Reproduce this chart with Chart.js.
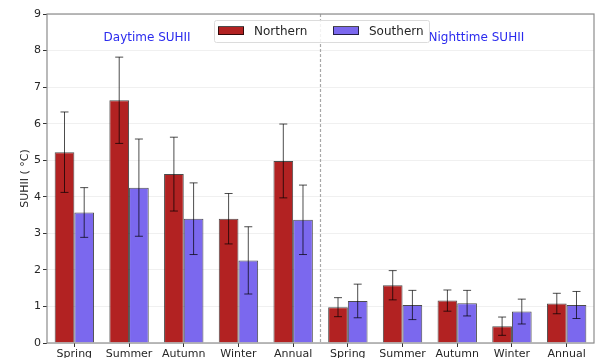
<!DOCTYPE html>
<html>
<head>
<meta charset="utf-8">
<script src="https://cdn.jsdelivr.net/npm/chart.js@4/dist/chart.umd.min.js"></script>
<style>
  html, body { margin: 0; padding: 0; background: #fff; overflow: hidden; }
  #wrap { width: 595px; height: 372px; position: relative; }
</style>
</head>
<body>
<div id="wrap"><canvas id="chart"></canvas></div>
<script>
// categories: daytime seasons then nighttime seasons
const seasons = ['Spring', 'Summer', 'Autumn', 'Winter', 'Annual',
                 'Spring', 'Summer', 'Autumn', 'Winter', 'Annual'];

const northern = [5.22, 6.64, 4.62, 3.40, 4.98, 0.98, 1.58, 1.16, 0.46, 1.08];
const northernErr = [1.10, 1.18, 1.01, 0.69, 1.01, 0.26, 0.40, 0.29, 0.25, 0.28];

const southern = [3.57, 4.25, 3.40, 2.26, 3.37, 1.15, 1.04, 1.09, 0.86, 1.04];
const southernErr = [0.68, 1.33, 0.98, 0.92, 0.95, 0.46, 0.40, 0.35, 0.34, 0.37];

const yTicks = [0, 1, 2, 3, 4, 5, 6, 7, 8, 9];

const FONT = 'DejaVu Sans';

// error bars, drawn over the bars
const errorBars = {
  id: 'errorBars',
  afterDatasetsDraw(chart) {
    const ctx = chart.ctx;
    const y = chart.scales.y;
    chart.data.datasets.forEach((ds, di) => {
      const meta = chart.getDatasetMeta(di);
      ctx.save();
      ctx.strokeStyle = 'rgba(0,0,0,0.7)';
      ctx.lineWidth = 1;
      meta.data.forEach((bar, i) => {
        const top = y.getPixelForValue(ds.data[i] + ds.errors[i]);
        const bot = y.getPixelForValue(ds.data[i] - ds.errors[i]);
        ctx.beginPath();
        ctx.moveTo(bar.x, top); ctx.lineTo(bar.x, bot);
        ctx.moveTo(bar.x - 4, top); ctx.lineTo(bar.x + 4, top);
        ctx.moveTo(bar.x - 4, bot); ctx.lineTo(bar.x + 4, bot);
        ctx.stroke();
      });
      ctx.restore();
    });
  }
};

// divider, frame, section labels and legend
const extras = {
  id: 'extras',
  beforeDatasetsDraw(chart) {
    const { ctx, chartArea, scales } = chart;
    const xd = (scales.x.getPixelForValue(4) + scales.x.getPixelForValue(5)) / 2;
    ctx.save();
    ctx.strokeStyle = '#a8a8a8';
    ctx.lineWidth = 1.2;
    ctx.setLineDash([3, 2]);
    ctx.beginPath();
    ctx.moveTo(xd, chartArea.top);
    ctx.lineTo(xd, chartArea.bottom);
    ctx.stroke();
    ctx.restore();
  },
  afterDraw(chart) {
    const { ctx, chartArea, scales } = chart;
    ctx.save();
    // frame
    ctx.strokeStyle = '#8c8c8c';
    ctx.lineWidth = 1.2;
    ctx.strokeRect(chartArea.left, chartArea.top,
      chartArea.right - chartArea.left, chartArea.bottom - chartArea.top);

    // section labels
    const step = scales.x.getPixelForValue(1) - scales.x.getPixelForValue(0);
    ctx.fillStyle = '#2b2bee';
    ctx.font = '12px "' + FONT + '"';
    ctx.textAlign = 'center';
    ctx.textBaseline = 'middle';
    ctx.fillText('Daytime SUHII', scales.x.getPixelForValue(1) + 0.33 * step, scales.y.getPixelForValue(8.36));
    ctx.fillText('Nighttime SUHII', scales.x.getPixelForValue(7) + 0.35 * step, scales.y.getPixelForValue(8.36));

    // legend
    const lx = 214, ly = 20, lw = 215, lh = 22;
    ctx.fillStyle = 'rgba(255,255,255,0.85)';
    ctx.strokeStyle = '#dcdcdc';
    ctx.lineWidth = 1;
    ctx.beginPath();
    ctx.roundRect(lx + 0.5, ly + 0.5, lw, lh, 2);
    ctx.fill();
    ctx.stroke();
    ctx.textAlign = 'left';
    ctx.font = '12px "' + FONT + '"';
    const items = [
      { text: 'Northern', color: chart.data.datasets[0].backgroundColor, x: lx + 4 },
      { text: 'Southern', color: chart.data.datasets[1].backgroundColor, x: lx + 119 }
    ];
    items.forEach(it => {
      ctx.fillStyle = it.color;
      ctx.fillRect(it.x, ly + 7, 26, 8);
      ctx.strokeStyle = 'rgba(0,0,0,0.7)';
      ctx.strokeRect(it.x + 0.5, ly + 6.5, 25, 8);
      ctx.fillStyle = '#262626';
      ctx.fillText(it.text, it.x + 36, ly + 11.5);
    });
    ctx.restore();
  }
};

new Chart(document.getElementById('chart'), {
  type: 'bar',
  data: {
    labels: seasons,
    datasets: [
      {
        label: 'Northern',
        data: northern,
        errors: northernErr,
        backgroundColor: '#B22222',
        borderColor: 'rgba(0,0,0,0.7)',
        borderWidth: 1
      },
      {
        label: 'Southern',
        data: southern,
        errors: southernErr,
        backgroundColor: '#7B68EE',
        borderColor: 'rgba(0,0,0,0.7)',
        borderWidth: 1
      }
    ]
  },
  options: {
    responsive: true,
    maintainAspectRatio: false,
    animation: false,
    layout: { padding: { top: 14, right: 1, left: 0, bottom: 0 } },
    datasets: { bar: { barPercentage: 1, categoryPercentage: 0.72 } },
    plugins: {
      legend: { display: false },
      tooltip: { enabled: false }
    },
    scales: {
      x: {
        offset: true,
        border: { display: false },
        grid: { display: true, drawOnChartArea: false, offset: false, tickLength: 4, tickColor: '#333' },
        ticks: { color: '#262626', font: { family: FONT, size: 11 }, padding: 1, maxRotation: 0, autoSkip: false },
        afterFit(scale) { scale.height = 29; }
      },
      y: {
        min: 0,
        max: 9,
        border: { display: false },
        afterBuildTicks(scale) { scale.ticks = yTicks.map(v => ({ value: v })); },
        grid: { color: 'rgba(0,0,0,0.06)', tickLength: 4, tickColor: '#333' },
        ticks: { color: '#262626', font: { family: FONT, size: 11 }, padding: 2 },
        title: {
          display: true,
          text: 'SUHII ( °C)',
          color: '#262626',
          font: { family: FONT, size: 11 },
          padding: { top: 19, bottom: 0 }
        },
        afterFit(scale) { scale.width = 47; }
      }
    }
  },
  plugins: [errorBars, extras]
});
</script>
</body>
</html>
